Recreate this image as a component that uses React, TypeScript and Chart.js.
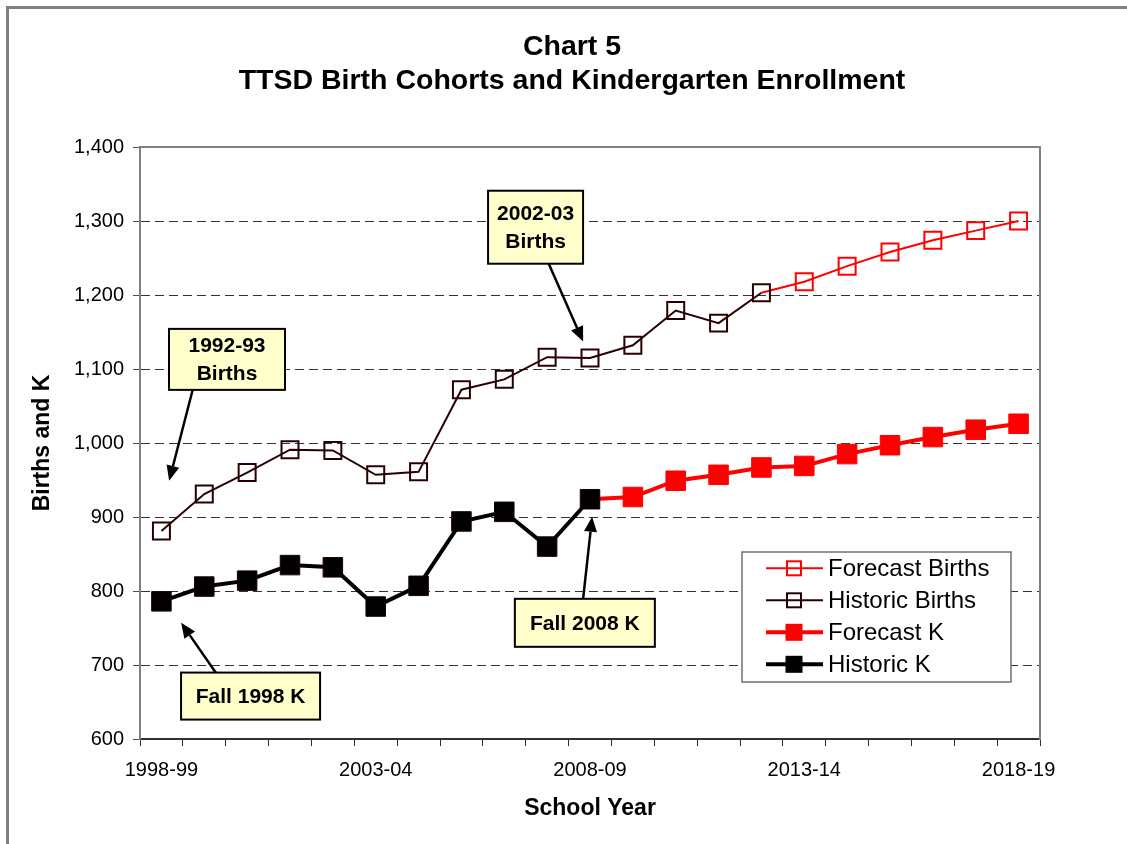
import React, { useEffect, useRef } from 'react';
import { Chart, registerables } from 'chart.js';

Chart.register(...registerables);

const FONT = "'Liberation Sans', Arial, Helvetica, sans-serif";

const schoolYears = [
  '1998-99', '1999-00', '2000-01', '2001-02', '2002-03', '2003-04', '2004-05',
  '2005-06', '2006-07', '2007-08', '2008-09', '2009-10', '2010-11', '2011-12',
  '2012-13', '2013-14', '2014-15', '2015-16', '2016-17', '2017-18', '2018-19',
];

const historicBirths = [881, 931, 960, 991, 990, 957, 961, 1072, 1086, 1116, 1115, 1132, 1179, 1162, 1203, null, null, null, null, null, null];
const forecastBirths = [null, null, null, null, null, null, null, null, null, null, null, null, null, null, 1203, 1218, 1239, 1258, 1274, 1287, 1300];
const historicK = [786, 806, 814, 835, 832, 779, 807, 894, 907, 860, 924, null, null, null, null, null, null, null, null, null, null];
const forecastK = [null, null, null, null, null, null, null, null, null, null, 924, 927, 949, 957, 967, 969, 985, 997, 1008, 1018, 1026];

const yMin = 600;
const yMax = 1400;
const yStep = 100;
const labelEvery = 5;

const titleLines = ['Chart 5', 'TTSD Birth Cohorts and Kindergarten Enrollment'];
const xAxisTitle = 'School Year';
const yAxisTitle = 'Births and K';

// Callouts: text, box centre [category index, value], box size, arrow start & tip in data coords
const calloutTexts = [['1992-93', 'Births'], ['2002-03', 'Births'], ['Fall 1998 K'], ['Fall 2008 K']];
const calloutCenters = [[1.53, 1113], [8.73, 1291.6], [2.08, 658], [9.88, 757]];
const calloutSizes = [[116, 61], [95, 73], [139, 47], [140, 48]];
const arrowFrom = [[0.73, 1072], [9.04, 1242], [1.27, 689.6], [9.84, 789.6]];
const arrowTo = [[0.18, 949], [9.84, 1137], [0.46, 757], [10.05, 900.4]];

const firstIndex = (arr: (number | null)[]) => arr.findIndex((v) => v !== null);
const fbStart = firstIndex(forecastBirths);
const fkStart = firstIndex(forecastK);

const OPEN_R = 12;
const FILLED_R = 13.8;

function drawArrow(ctx: CanvasRenderingContext2D, x1: number, y1: number, x2: number, y2: number) {
  const ang = Math.atan2(y2 - y1, x2 - x1);
  const hl = 15;
  const hw = 6.5;
  const bx = x2 - hl * Math.cos(ang);
  const by = y2 - hl * Math.sin(ang);
  ctx.beginPath();
  ctx.moveTo(x1, y1);
  ctx.lineTo(bx, by);
  ctx.lineWidth = 2.5;
  ctx.strokeStyle = '#000';
  ctx.stroke();
  ctx.beginPath();
  ctx.moveTo(x2, y2);
  ctx.lineTo(bx + hw * Math.sin(ang), by - hw * Math.cos(ang));
  ctx.lineTo(bx - hw * Math.sin(ang), by + hw * Math.cos(ang));
  ctx.closePath();
  ctx.fillStyle = '#000';
  ctx.fill();
}

const decorPlugin = {
  id: 'decor',
  beforeDraw(chart: any) {
    const { ctx } = chart;
    ctx.save();
    ctx.strokeStyle = '#808080';
    ctx.lineWidth = 3;
    ctx.beginPath();
    ctx.moveTo(7.5, chart.height);
    ctx.lineTo(7.5, 7.5);
    ctx.lineTo(chart.width, 7.5);
    ctx.stroke();
    ctx.restore();
  },
  afterDraw(chart: any) {
    const { ctx, chartArea: a } = chart;
    const xs = chart.scales.x;
    const ys = chart.scales.y;
    ctx.save();
    // top border of plot area
    ctx.strokeStyle = '#808080';
    ctx.lineWidth = 2;
    ctx.beginPath();
    ctx.moveTo(a.left - 1, a.top);
    ctx.lineTo(a.right + 1, a.top);
    ctx.stroke();

    // callouts
    calloutTexts.forEach((lines, i) => {
      const ax1 = xs.getPixelForValue(arrowFrom[i][0]);
      const ay1 = ys.getPixelForValue(arrowFrom[i][1]);
      const ax2 = xs.getPixelForValue(arrowTo[i][0]);
      const ay2 = ys.getPixelForValue(arrowTo[i][1]);
      drawArrow(ctx, ax1, ay1, ax2, ay2);
      const cx = xs.getPixelForValue(calloutCenters[i][0]);
      const cy = ys.getPixelForValue(calloutCenters[i][1]);
      const [w, h] = calloutSizes[i];
      ctx.fillStyle = '#FFFFCC';
      ctx.fillRect(cx - w / 2, cy - h / 2, w, h);
      ctx.strokeStyle = '#000';
      ctx.lineWidth = 2;
      ctx.strokeRect(cx - w / 2, cy - h / 2, w, h);
      ctx.fillStyle = '#000';
      ctx.font = `bold 21px ${FONT}`;
      ctx.textAlign = 'center';
      ctx.textBaseline = 'middle';
      const lh = 27.5;
      lines.forEach((t, j) => {
        ctx.fillText(t, cx, cy + (j - (lines.length - 1) / 2) * lh + 1);
      });
    });

    // legend
    const lx = a.right - 298;
    const ly = a.bottom - 187;
    const lw = 269;
    const lhgt = 130;
    ctx.fillStyle = '#fff';
    ctx.fillRect(lx, ly, lw, lhgt);
    ctx.strokeStyle = '#707070';
    ctx.lineWidth = 1.5;
    ctx.strokeRect(lx, ly, lw, lhgt);
    chart.data.datasets.forEach((d: any, i: number) => {
      const ry = ly + 16.3 + i * 32;
      ctx.strokeStyle = d.borderColor;
      ctx.lineWidth = d.borderWidth;
      ctx.beginPath();
      ctx.moveTo(lx + 24, ry);
      ctx.lineTo(lx + 81, ry);
      ctx.stroke();
      const mx = lx + 52;
      const filled = d.pointBackgroundColor !== 'rgba(0,0,0,0)';
      if (filled) {
        const s = 17;
        ctx.fillStyle = d.pointBackgroundColor;
        ctx.fillRect(mx - s / 2, ry - s / 2, s, s);
      } else {
        const s = 14;
        ctx.strokeStyle = d.pointBorderColor;
        ctx.lineWidth = 2;
        ctx.strokeRect(mx - s / 2, ry - s / 2, s, s);
      }
      ctx.fillStyle = '#000';
      ctx.font = `24px ${FONT}`;
      ctx.textAlign = 'left';
      ctx.textBaseline = 'middle';
      ctx.fillText(d.label, lx + 86, ry + 1);
    });
    ctx.restore();
  },
};

export default function App() {
  const canvasRef = useRef<HTMLCanvasElement | null>(null);

  useEffect(() => {
    if (!canvasRef.current) return;
    const chart = new Chart(canvasRef.current, {
      type: 'line',
      data: {
        labels: schoolYears,
        datasets: [
          {
            label: 'Forecast Births',
            data: forecastBirths,
            borderColor: '#FF0000',
            borderWidth: 2,
            pointStyle: 'rect',
            pointRadius: (c: any) => (c.dataIndex === fbStart ? 0 : OPEN_R),
            pointHoverRadius: (c: any) => (c.dataIndex === fbStart ? 0 : OPEN_R),
            pointBorderColor: '#FF0000',
            pointBackgroundColor: 'rgba(0,0,0,0)',
            pointBorderWidth: 2,
            tension: 0,
            order: 1,
          },
          {
            label: 'Historic Births',
            data: historicBirths,
            borderColor: '#280000',
            borderWidth: 2,
            pointStyle: 'rect',
            pointRadius: OPEN_R,
            pointHoverRadius: OPEN_R,
            pointBorderColor: '#280000',
            pointBackgroundColor: 'rgba(0,0,0,0)',
            pointBorderWidth: 2,
            tension: 0,
            order: 0,
          },
          {
            label: 'Forecast K',
            data: forecastK,
            borderColor: '#FF0000',
            borderWidth: 4,
            pointStyle: 'rect',
            pointRadius: (c: any) => (c.dataIndex === fkStart ? 0 : FILLED_R),
            pointHoverRadius: (c: any) => (c.dataIndex === fkStart ? 0 : FILLED_R),
            pointBorderColor: '#FF0000',
            pointBackgroundColor: '#FF0000',
            pointBorderWidth: 1,
            tension: 0,
            order: 1,
          },
          {
            label: 'Historic K',
            data: historicK,
            borderColor: '#000000',
            borderWidth: 4,
            pointStyle: 'rect',
            pointRadius: FILLED_R,
            pointHoverRadius: FILLED_R,
            pointBorderColor: '#200000',
            pointBackgroundColor: '#000000',
            pointBorderWidth: 1,
            tension: 0,
            order: 0,
          },
        ],
      },
      options: {
        responsive: false,
        maintainAspectRatio: false,
        animation: false,
        events: [],
        layout: { padding: { left: 17, right: 0, top: 0, bottom: 0 } },
        plugins: {
          legend: { display: false },
          tooltip: { enabled: false },
          title: {
            display: true,
            text: titleLines,
            color: '#000',
            font: { family: FONT, size: 28.5, weight: 'bold', lineHeight: 34 / 28.5 },
            padding: { top: 30, bottom: 49 },
          },
        },
        scales: {
          x: {
            type: 'category',
            offset: true,
            grid: {
              display: true,
              offset: true,
              drawOnChartArea: false,
              drawTicks: true,
              tickLength: 7,
              tickColor: '#303030',
              tickWidth: 1,
            },
            border: { display: true, color: '#303030', width: 2 },
            ticks: {
              autoSkip: false,
              maxRotation: 0,
              minRotation: 0,
              padding: 12,
              color: '#000',
              font: { family: FONT, size: 20 },
              callback: (_v: any, i: number) => (i % labelEvery === 0 ? schoolYears[i] : ''),
            },
            title: {
              display: true,
              text: xAxisTitle,
              color: '#000',
              font: { family: FONT, size: 23, weight: 'bold', lineHeight: 1 },
              padding: { top: 0, bottom: 24 },
            },
            afterFit: (s: any) => {
              s.height = 105;
            },
          },
          y: {
            type: 'linear',
            position: 'left',
            min: yMin,
            max: yMax,
            ticks: {
              stepSize: yStep,
              padding: 9,
              color: '#000',
              font: { family: FONT, size: 20 },
              callback: (v: any) => Number(v).toLocaleString('en-US'),
            },
            grid: {
              color: (c: any) =>
                c.tick && (c.tick.value === yMin || c.tick.value === yMax) ? 'rgba(0,0,0,0)' : '#333333',
              lineWidth: 1,
              drawTicks: true,
              tickLength: 7,
              tickColor: '#505050',
              tickWidth: 1,
            },
            border: { display: true, color: '#808080', width: 2, dash: [9, 5] },
            title: {
              display: true,
              text: yAxisTitle,
              color: '#000',
              font: { family: FONT, size: 23, weight: 'bold', lineHeight: 1 },
              padding: { top: 14.5, bottom: 0 },
            },
            afterFit: (s: any) => {
              s.width = 123;
            },
          },
          y2: {
            type: 'linear',
            position: 'right',
            min: 0,
            max: 1,
            display: true,
            ticks: { display: false },
            grid: { display: false, drawOnChartArea: false },
            border: { display: true, color: '#808080', width: 2 },
            afterFit: (s: any) => {
              s.width = 87;
            },
          },
        },
      },
      plugins: [decorPlugin],
    } as any);
    return () => chart.destroy();
  }, []);

  return (
    <div style={{ position: 'fixed', left: 0, top: 0, width: 1127, height: 844, background: '#fff' }}>
      <canvas ref={canvasRef} width={1127} height={844} style={{ width: 1127, height: 844, display: 'block' }} />
    </div>
  );
}
